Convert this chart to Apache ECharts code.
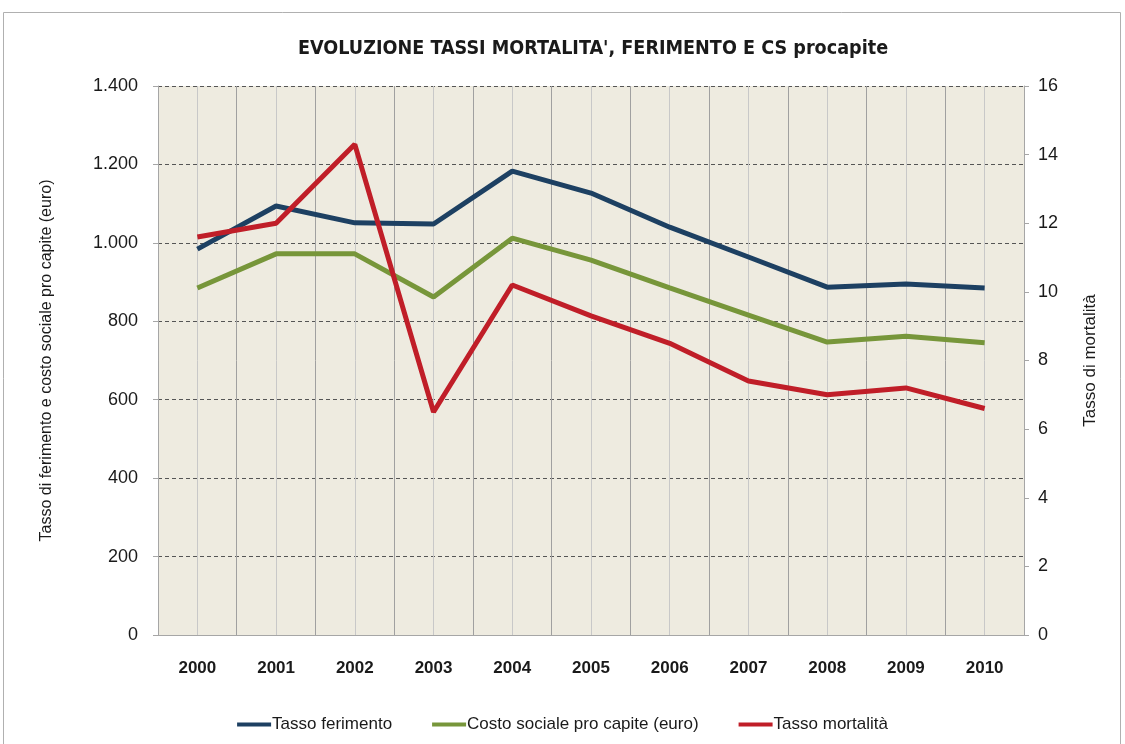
<!DOCTYPE html>
<html>
<head>
<meta charset="utf-8">
<script src="https://cdn.jsdelivr.net/npm/echarts@6/dist/echarts.min.js"></script>
<style>
  html, body { margin: 0; padding: 0; background: #fff; }
  #main { width: 1125px; height: 744px; }
</style>
</head>
<body>
<div id="main"></div>
<script>
var anni = ['2000', '2001', '2002', '2003', '2004', '2005', '2006', '2007', '2008', '2009', '2010'];
var tassoFerimento = [984, 1094, 1051, 1048, 1183, 1127, 1040, 964, 887, 895, 885];
var costoSociale = [885, 972, 972, 862, 1012, 956, 885, 816, 747, 762, 745];
var tassoMortalita = [11.6, 12.0, 14.3, 6.5, 10.2, 9.3, 8.5, 7.4, 7.0, 7.2, 6.6];

var font = "'Liberation Sans Narrow', 'Liberation Sans', Arial, sans-serif";

var chart = echarts.init(document.getElementById('main'));

function fmtMigliaia(v) {
    return String(v).replace(/\B(?=(\d{3})+(?!\d))/g, '.');
}

var option = {
    animation: false,
    backgroundColor: '#fff',
    textStyle: { fontFamily: font },
    title: {
        text: "EVOLUZIONE TASSI MORTALITA', FERIMENTO E CS procapite",
        left: 293,
        top: 34,
        textStyle: { fontFamily: "'DejaVu Sans Condensed', 'Liberation Sans', sans-serif", fontSize: 19.6, fontWeight: 'bold', color: '#1a1a1a' }
    },
    graphic: [{
        type: 'rect',
        shape: { x: 3.5, y: 12.5, width: 1117, height: 740 },
        style: { fill: 'none', stroke: '#b0b0b0', lineWidth: 1 },
        silent: true
    }],
    legend: {
        bottom: 6,
        left: 'center',
        itemGap: 40,
        itemWidth: 34,
        itemHeight: 4,
        icon: 'rect',
        textStyle: { fontFamily: font, fontSize: 17, color: '#1a1a1a', padding: [0, 0, 0, -4] },
        data: ['Tasso ferimento', 'Costo sociale pro capite (euro)', 'Tasso mortalità']
    },
    grid: {
        left: 158, right: 101, top: 86, bottom: 109,
        show: true,
        backgroundColor: '#eeebe0',
        borderWidth: 0
    },
    xAxis: [{
        type: 'category',
        data: anni,
        boundaryGap: true,
        axisLine: { lineStyle: { color: '#a6a6a6', width: 1 } },
        axisTick: { show: false },
        axisLabel: { fontFamily: font, fontSize: 17, fontWeight: 'bold', color: '#1a1a1a', margin: 25 },
        splitLine: { show: false }
    }, {
        // griglia verticale: bordi e centri delle categorie
        type: 'value',
        min: 0, max: 22, interval: 1,
        show: true,
        position: 'bottom',
        axisLine: { show: false },
        axisTick: { show: false },
        axisLabel: { show: false },
        splitLine: { show: true, lineStyle: { color: ['#a0a0a0', '#c8c8c8'], width: 1 } }
    }],
    yAxis: [{
        type: 'value',
        min: 0, max: 1400, interval: 200,
        name: 'Tasso di ferimento e costo sociale pro capite (euro)',
        nameLocation: 'middle',
        nameGap: 103,
        nameRotate: 90,
        nameTextStyle: { fontFamily: font, fontSize: 16, color: '#1a1a1a' },
        axisLine: { show: true, lineStyle: { color: '#a6a6a6' } },
        axisTick: { show: true, length: 5, lineStyle: { color: '#a6a6a6' } },
        axisLabel: { fontFamily: font, fontSize: 18, color: '#1a1a1a', margin: 20, formatter: fmtMigliaia },
        splitLine: { show: true, lineStyle: { color: '#555', type: [4, 3], width: 1 } }
    }, {
        type: 'value',
        min: 0, max: 16, interval: 2,
        position: 'right',
        name: 'Tasso di mortalità',
        nameLocation: 'middle',
        nameGap: 58,
        nameRotate: 90,
        nameTextStyle: { fontFamily: font, fontSize: 17, color: '#1a1a1a' },
        axisLine: { show: true, lineStyle: { color: '#a6a6a6' } },
        axisTick: { show: true, length: 5, lineStyle: { color: '#a6a6a6' } },
        axisLabel: { fontFamily: font, fontSize: 18, color: '#1a1a1a', margin: 14 },
        splitLine: { show: false }
    }],
    series: [{
        name: 'Tasso ferimento',
        type: 'line',
        data: tassoFerimento,
        yAxisIndex: 0,
        symbol: 'none',
        color: '#1d4062',
        lineStyle: { width: 5, color: '#1d4062' }
    }, {
        name: 'Costo sociale pro capite (euro)',
        type: 'line',
        data: costoSociale,
        yAxisIndex: 0,
        symbol: 'none',
        color: '#77963a',
        lineStyle: { width: 5, color: '#77963a' }
    }, {
        name: 'Tasso mortalità',
        type: 'line',
        data: tassoMortalita,
        yAxisIndex: 1,
        symbol: 'none',
        color: '#c01e28',
        lineStyle: { width: 5, color: '#c01e28' }
    }]
};

chart.setOption(option);
</script>
</body>
</html>
